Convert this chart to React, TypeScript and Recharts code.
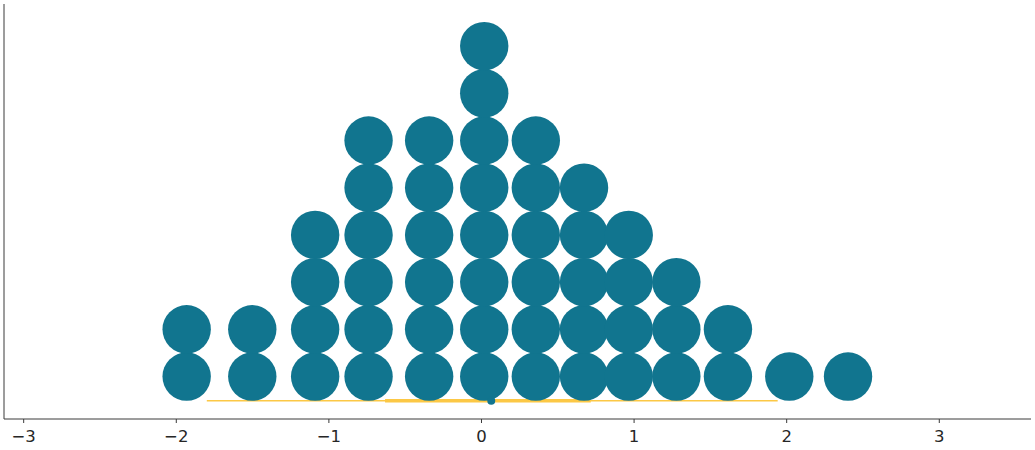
import React from "react";
import { ScatterChart, Scatter, XAxis, YAxis, ReferenceLine, ReferenceDot } from "recharts";

const columnValues = [-1.932, -1.502, -1.09, -0.74, -0.343, 0.018, 0.356, 0.672, 0.965, 1.277, 1.615, 2.017, 2.402];
const columnCounts = [2, 2, 4, 6, 6, 8, 6, 5, 4, 3, 2, 1, 1];
const xTicks = [-3, -2, -1, 0, 1, 2, 3];
const hdiOuter = [-1.8, 1.941];
const hdiInner = [-0.632, 0.716];
const pointEstimate = 0.064;
const hdiLevel = 0.487;

const dots: { x: number; y: number }[] = [];
columnValues.forEach((v, i) => {
  for (let k = 1; k <= columnCounts[i]; k++) dots.push({ x: v, y: k });
});

const TEAL = "#11758f";
const YELLOW = "#fcc845";
const SPINE = "#3a3a3a";

const Dot = (props: any) => {
  const { cx, cy } = props;
  return <circle cx={cx} cy={cy} r={24.2} fill={TEAL} />;
};

const Tick = (props: any) => {
  const { x, y, payload } = props;
  const label = String(payload.value).replace("-", "\u2212");
  return (
    <text
      x={x}
      y={y + 17}
      textAnchor="middle"
      fill="#262626"
      fontSize={16.5}
      fontFamily="DejaVu Sans"
    >
      {label}
    </text>
  );
};

export default function App() {
  return (
    <div style={{ position: "absolute", left: 0, top: 0 }}>
      <ScatterChart width={1035} height={450} margin={{ top: 4, right: 4, left: 3, bottom: 0 }}>
        <XAxis
          type="number"
          dataKey="x"
          domain={[-3.129, 3.601]}
          ticks={xTicks}
          allowDataOverflow
          height={31}
          tickSize={4}
          axisLine={{ stroke: SPINE, strokeWidth: 1 }}
          tickLine={{ stroke: SPINE, strokeWidth: 1 }}
          tick={<Tick />}
        />
        <YAxis
          type="number"
          dataKey="y"
          domain={[0.1, 8.892]}
          allowDataOverflow
          width={1}
          tick={false}
          tickLine={false}
          axisLine={{ stroke: SPINE, strokeWidth: 1 }}
        />
        <Scatter data={dots} shape={Dot} isAnimationActive={false} />
        <ReferenceLine
          segment={[{ x: hdiOuter[0], y: hdiLevel }, { x: hdiOuter[1], y: hdiLevel }]}
          stroke={YELLOW}
          strokeWidth={1.6}
        />
        <ReferenceLine
          segment={[{ x: hdiInner[0], y: hdiLevel }, { x: hdiInner[1], y: hdiLevel }]}
          stroke={YELLOW}
          strokeWidth={3.4}
        />
        <ReferenceDot x={pointEstimate} y={hdiLevel} r={4} fill={TEAL} stroke="none" />
      </ScatterChart>
    </div>
  );
}
